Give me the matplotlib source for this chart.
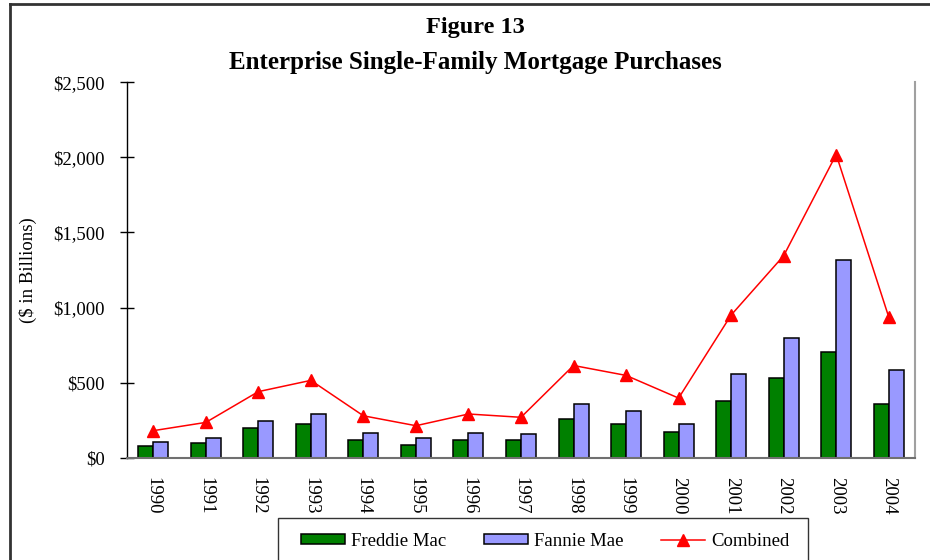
import matplotlib
matplotlib.use("Agg")
import matplotlib.pyplot as plt
import numpy as np
from matplotlib.lines import Line2D
from matplotlib.patches import Rectangle

years = ["1990", "1991", "1992", "1993", "1994", "1995", "1996", "1997",
         "1998", "1999", "2000", "2001", "2002", "2003", "2004"]
freddie = [76, 96, 195, 226, 118, 84, 118, 116, 259, 226, 171, 379, 530, 703, 355]
fannie = [106, 129, 246, 293, 162, 129, 164, 160, 355, 312, 226, 558, 798, 1319, 583]
combined = [180, 235, 440, 515, 279, 213, 291, 269, 614, 548, 397, 950, 1345, 2019, 937]
yticks = [0, 500, 1000, 1500, 2000, 2500]
ytick_labels = ["$0", "$500", "$1,000", "$1,500", "$2,000", "$2,500"]

plt.rcParams['font.family'] = ['Liberation Serif', 'DejaVu Serif']

W, H = 930, 560
fig = plt.figure(figsize=(W / 100, H / 100), dpi=100)
ax = fig.add_axes([127 / W, 1 - 457.7 / H, (915 - 127) / W, (457.7 - 82.3) / H])

x = np.arange(len(years))
bw = 0.285
ax.bar(x - bw / 2, freddie, width=bw, color="#008000", edgecolor="black",
       linewidth=1.1, label="Freddie Mac", zorder=2)
ax.bar(x + bw / 2, fannie, width=bw, color="#9999FF", edgecolor="black",
       linewidth=1.1, label="Fannie Mae", zorder=2)
ax.plot(x, combined, color="#FF0000", linewidth=1.1, marker="^",
        markersize=8, label="Combined", zorder=3)

ax.set_xlim(-0.5, len(years) - 0.5)
ax.set_ylim(0, 2500)
ax.set_yticks(yticks)
ax.set_yticklabels(ytick_labels, fontsize=13.5)
ax.set_xticks(x)
ax.set_xticklabels(years, rotation=270, fontsize=13.5)
ax.tick_params(axis="x", length=0, pad=14)
ax.tick_params(axis="y", direction="inout", length=10, width=1, pad=11)
ax.spines["top"].set_visible(False)
ax.spines["right"].set_color("#a0a0a0")
ax.spines["right"].set_linewidth(1.5)
ax.spines["bottom"].set_color("#707070")
ax.spines["bottom"].set_linewidth(1.5)
ax.spines["left"].set_color("black")
ax.spines["left"].set_linewidth(1.0)

fig.text(28 / W, 1 - 270 / H, "($ in Billions)", rotation=90, fontsize=13.5,
         ha="center", va="center")

fig.text(475 / W, 1 - 28 / H, "Figure 13", fontsize=17.5, fontweight="bold",
         ha="center", va="center")
fig.text(475 / W, 1 - 62 / H, "Enterprise Single-Family Mortgage Purchases",
         fontsize=18, fontweight="bold", ha="center", va="center")

# outer chart border (left and top visible)
fig.add_artist(Line2D([10 / W, 10 / W], [0, 1 - 4 / H], color="#333333",
                      linewidth=2, transform=fig.transFigure))
fig.add_artist(Line2D([10 / W, 1], [1 - 4 / H, 1 - 4 / H], color="#333333",
                      linewidth=2, transform=fig.transFigure))

# legend box
fig.add_artist(Rectangle((278 / W, -0.02), (808 - 278) / W, (1 - 518 / H) + 0.02,
                         transform=fig.transFigure, fill=False,
                         edgecolor="#333333", linewidth=1))
handles, labels = ax.get_legend_handles_labels()
order = [1, 2, 0]
fig.legend([handles[i] for i in order], [labels[i] for i in order],
           loc="center", bbox_to_anchor=(545 / W, 1 - 541 / H),
           ncol=3, frameon=False, fontsize=13.5, handlelength=2.35,
           handleheight=0.5, columnspacing=2.0, handletextpad=0.32)

fig.savefig("out.png", dpi=100)
